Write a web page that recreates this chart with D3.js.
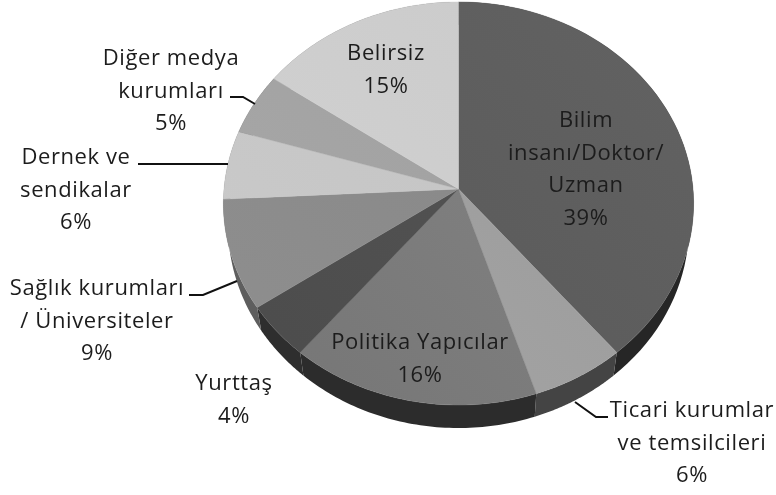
<!DOCTYPE html>
<html><head><meta charset="utf-8">
<script src="https://cdn.jsdelivr.net/npm/d3@7/dist/d3.min.js"></script>
<style>html,body{margin:0;padding:0;background:#fff}svg{display:block;filter:blur(0.45px)}text{font-family:"Open Sans",Lato,sans-serif;font-size:22px;letter-spacing:0.6px;fill:#1c1c1c;text-anchor:middle}</style>
</head><body><svg id="c" width="776" height="495"></svg>
<script>
const categories=["Bilim insanı/Doktor/ Uzman","Ticari kurumlar ve temsilcileri","Politika Yapıcılar","Yurttaş","Sağlık kurumları / Üniversiteler","Dernek ve sendikalar","Diğer medya kurumları","Belirsiz"];
const values=[39,6,16,4.4,8.8,5.5,5,15.3];
const topStart=["#585858","#a6a6a6","#767676","#4c4c4c","#8e8e8e","#cacaca","#a8a8a8","#d2d2d2"];
const topEnd=["#626262","#989898","#868686","#565656","#868686","#c2c2c2","#9e9e9e","#cacaca"];
const sideColors=["#262626","#444444","#2c2c2c","#2e2e2e","#5e5e5e","#6e6e6e","#5e5e5e","#6e6e6e"];
const labelLines=[["Bilim","insanı/Doktor/","Uzman","39%"],["Ticari kurumlar","ve temsilcileri","6%"],["Politika Yapıcılar","16%"],["Yurttaş","4%"],["Sağlık kurumları","/ Üniversiteler","9%"],["Dernek ve","sendikalar","6%"],["Diğer medya","kurumları","5%"],["Belirsiz","15%"]];
const labelPos=[[586,127],[692,417],[420,349],[234,390],[97,295],[76,164],[171,65],[386,60]];
const leaders=[null,[[575,402],[596,417],[608,417]],null,null,[[189,295],[203,295],[237,281]],[[138,164],[228,164]],[[230,97],[243,97],[255,104]],null];

const svg=d3.select("#c"),cx=458.5,cy=189,rx=234.5,ry=200.5,p=0.0719,depth=23,lowScale=0.98;
const pie=d3.pie().sort(null)(values);
const proj=(t)=>{const u=Math.sin(t),v=-Math.cos(t),w=1-p*v;return [cx+rx*u/w,cy+ry*v/w];};
const rim=(a,b)=>d3.range(0,61).map(i=>proj(a+(b-a)*i/60));
const line=d3.line();
const defs=svg.append("defs");
pie.forEach((d,i)=>{
  const g=defs.append("linearGradient").attr("id","g"+i).attr("gradientUnits","userSpaceOnUse")
    .attr("x1",cx-200).attr("y1",cy+200).attr("x2",cx+200).attr("y2",cy-200);
  g.append("stop").attr("offset",0).attr("stop-color",topStart[i]);
  g.append("stop").attr("offset",1).attr("stop-color",topEnd[i]);
});
svg.selectAll("path.side").data(pie).join("path").attr("class","side")
  .attr("fill",(d,i)=>sideColors[i])
  .attr("d",d=>{const r=rim(d.startAngle,d.endAngle);const low=r.map(q=>[cx+(q[0]-cx)*lowScale,q[1]+depth]).reverse();return line(r.concat(low))+"Z";});
svg.selectAll("path.top").data(pie).join("path").attr("class","top")
  .attr("fill",(d,i)=>`url(#g${i})`).attr("stroke",(d,i)=>`url(#g${i})`).attr("stroke-width",0.4)
  .attr("d",d=>line([[cx,cy]].concat(rim(d.startAngle,d.endAngle)))+"Z");
svg.selectAll("path.lead").data(leaders.filter(Boolean)).join("path").attr("class","lead")
  .attr("fill","none").attr("stroke","#111").attr("stroke-width",2).attr("d",line);
labelLines.forEach((ls,i)=>{
  const t=svg.append("text");
  ls.forEach((s,j)=>t.append("tspan").attr("x",labelPos[i][0]).attr("y",labelPos[i][1]+j*32.6).text(s));
});
</script></body></html>
